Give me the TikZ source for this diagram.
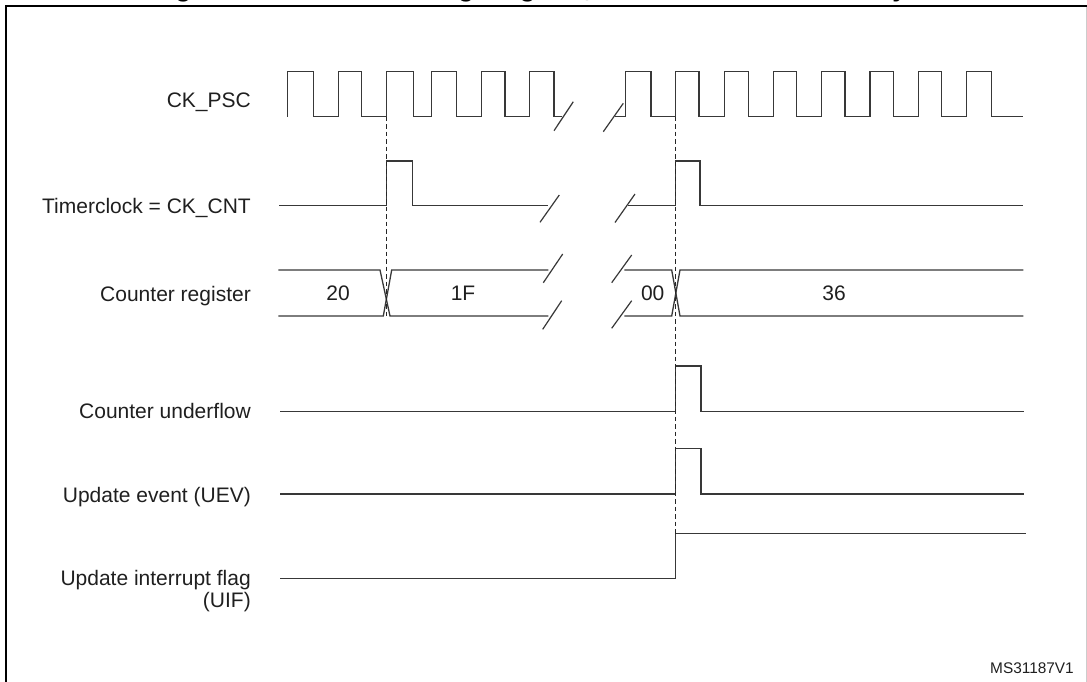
\documentclass[tikz,border=0pt]{standalone}
\usepackage{fontspec}
\setmainfont{Liberation Sans}
\begin{document}
\begin{tikzpicture}[x=1pt,y=-1pt,
  sig/.style={draw=black!78, line width=1.3pt, line join=miter},
  brk/.style={draw=black!78, line width=1.2pt},
  guide/.style={draw=black!85, line width=1.2pt, dash pattern=on 4.5pt off 3pt},
  lbl/.style={anchor=base east, inner sep=0pt, text=black!88, font=\fontsize{21}{24}\selectfont},
  val/.style={anchor=base, inner sep=0pt, text=black!88, font=\fontsize{21}{24}\selectfont}]
\useasboundingbox (0,0) rectangle (1087,681);
\clip (0,0) rectangle (1087,681);
% title (clipped at the top)
\node[anchor=base west, inner sep=0pt, font=\bfseries\fontsize{26.4}{30}\selectfont] (title) at (151.8,-3.5) {Figure 91. Counter timing diagram, internal clock divided by N};
% frame
\draw[line width=2.2pt, black] (5.7,690) -- (5.7,6) -- (1095,6);
\draw[line width=0.8pt, black!20] (1086.6,7) -- (1086.6,690);
% labels
\node[lbl] (lpsc) at (251,107.3) {CK\_PSC};
\node[lbl] (lcnt) at (251,213.3) {Timerclock = CK\_CNT};
\node[lbl] (lreg) at (251,301.5) {Counter register};
\node[lbl] (lunf) at (251,418.3) {Counter underflow};
\node[lbl] (luev) at (251,502.5) {Update event (UEV)};
\node[lbl] (luif) at (251,585) {Update interrupt flag};
\node[lbl] (luif2) at (251,607) {(UIF)};
\node[anchor=base east, inner sep=0pt, text=black!88, font=\fontsize{15.4}{18}\selectfont] (ref) at (1074,673.3) {MS31187V1};
% CK_PSC
\draw[sig] (287.3,116.7) -- (287.3,71.7) -- (313.3,71.7) -- (313.3,116.7) -- (338.3,116.7) -- (338.3,71.7)
  -- (361.7,71.7) -- (361.7,116.7) -- (386.7,116.7) -- (386.7,71.7) -- (413.3,71.7) -- (413.3,116.7)
  -- (431.7,116.7) -- (431.7,71.7) -- (456.7,71.7) -- (456.7,116.7) -- (481.7,116.7) -- (481.7,71.7)
  -- (505,71.7) -- (505,116.7) -- (529.3,116.7) -- (529.3,71.7) -- (554,71.7) -- (554,116.7) -- (562,116.7);
\draw[brk] (554,130.7) -- (573.3,101.7);
\draw[brk] (603.3,131.7) -- (623.3,103.3);
\draw[sig] (615,116.7) -- (625.7,116.7) -- (625.7,71.7) -- (651,71.7) -- (651,116.7) -- (675.7,116.7) -- (675.7,71.7)
  -- (699,71.7) -- (699,116.7) -- (724.3,116.7) -- (724.3,71.7) -- (748.3,71.7) -- (748.3,116.7)
  -- (773.3,116.7) -- (773.3,71.7) -- (796.7,71.7) -- (796.7,116.7) -- (821.7,116.7) -- (821.7,71.7)
  -- (845,71.7) -- (845,116.7) -- (870,116.7) -- (870,71.7) -- (893.3,71.7) -- (893.3,116.7)
  -- (918.3,116.7) -- (918.3,71.7) -- (941.7,71.7) -- (941.7,116.7) -- (966.7,116.7) -- (966.7,71.7)
  -- (991.7,71.7) -- (991.7,116.7) -- (1022.7,116.7);
% Timerclock
\draw[sig] (279.3,205.7) -- (386.7,205.7) -- (386.7,161) -- (412.3,161) -- (412.3,205.7) -- (547.7,205.7);
\draw[brk] (540,222.3) -- (559.3,195);
\draw[brk] (615,222.5) -- (635,194);
\draw[sig] (628.3,205.7) -- (675.7,205.7) -- (675.7,161) -- (700,161) -- (700,205.7) -- (1023.3,205.7);
% Counter register
\draw[sig] (278.3,270) -- (380,270) -- (390,316) -- (548.3,316);
\draw[sig] (278.3,316) -- (383.3,316) -- (391.7,270) -- (548.3,270);
\draw[brk] (543.3,282.7) -- (562.7,254);
\draw[brk] (542.7,329.3) -- (561.7,300.7);
\draw[brk] (611.7,282.7) -- (631.7,255);
\draw[brk] (611.7,328.3) -- (631.7,300.7);
\draw[sig] (624.3,270) -- (671.7,270) -- (680,316) -- (1023.3,316);
\draw[sig] (624.3,316) -- (671.7,316) -- (680,270) -- (1023.3,270);
\node[val] (v20) at (338,300.5) {20};
\node[val] (v1f) at (463,300.5) {1F};
\node[val] (v00) at (652.7,300.5) {00};
\node[val] (v36) at (834,300.5) {36};
% Counter underflow
\draw[sig] (280,411.3) -- (675.7,411.3) -- (675.7,366) -- (701,366) -- (701,411.3) -- (1024.3,411.3);
% Update event
\draw[sig] (280,494) -- (675.7,494) -- (675.7,448.7) -- (701,448.7) -- (701,494) -- (1024.3,494);
% UIF
\draw[sig] (280,578.3) -- (675.7,578.3) -- (675.7,533.3) -- (1025.7,533.3);
% guides
\draw[guide] (386.7,116.7) -- (386.7,318);
\draw[guide] (675.7,116.7) -- (675.7,534);
\end{tikzpicture}
\end{document}
